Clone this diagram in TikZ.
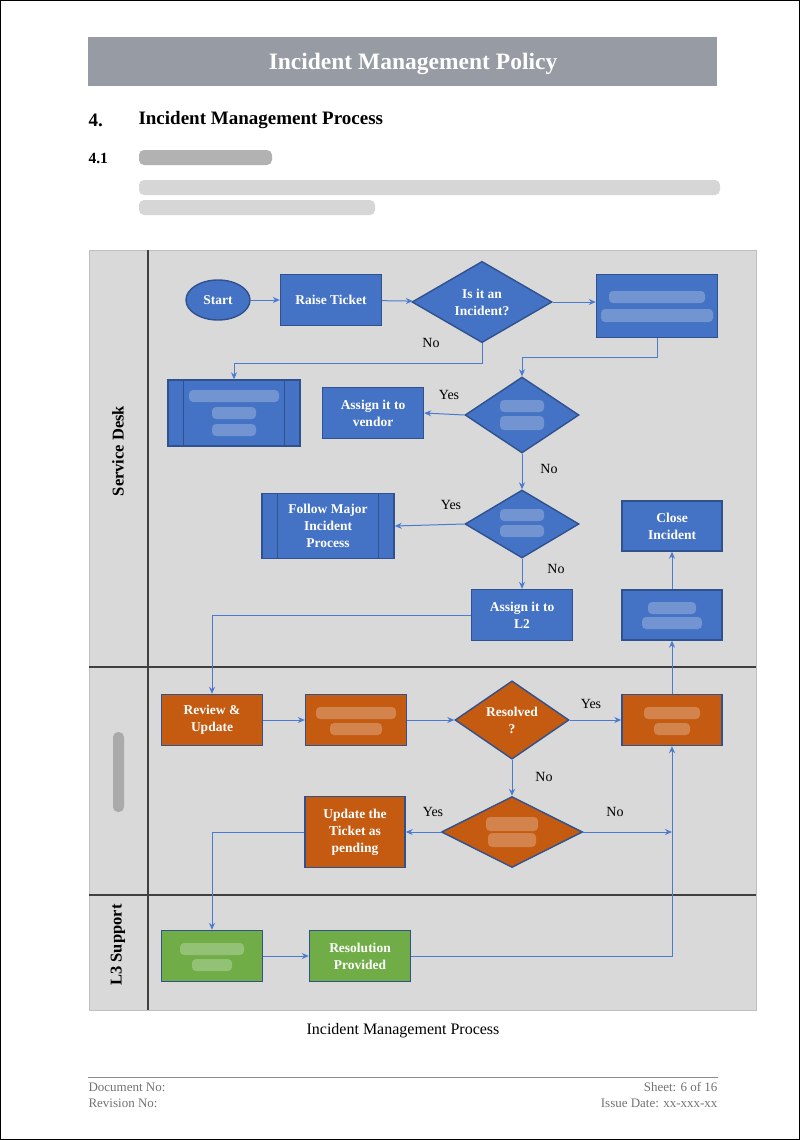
\documentclass[tikz,border=0pt]{standalone}
\usepackage{fontspec}
\setmainfont{Liberation Serif}
\usepackage{xcolor}
\usetikzlibrary{arrows.meta,shapes.geometric,calc}
\definecolor{boxblue}{HTML}{4472C4}
\definecolor{edgeblue}{HTML}{2F528F}
\definecolor{boxorange}{HTML}{C55A11}
\definecolor{boxgreen}{HTML}{70AD47}
\definecolor{lanegray}{HTML}{D9D9D9}
\definecolor{titlegray}{HTML}{979BA3}
\definecolor{linkblue}{HTML}{4A7BD0}

\begin{document}
\begin{tikzpicture}[x=1pt,y=-1pt,
box/.style={draw=edgeblue,line width=1.4,fill=boxblue,text=white,minimum width=101,minimum height=51,align=center,inner sep=2,font=\fontsize{13.5}{17}\selectfont\bfseries},
orangebox/.style={box,fill=boxorange},
greenbox/.style={box,fill=boxgreen},
decision/.style={diamond,draw=edgeblue,line width=1.4,fill=boxblue,text=white,inner sep=0,align=center,font=\fontsize{13.5}{17}\selectfont\bfseries},
flow/.style={-{Stealth[length=7,width=6]},draw=linkblue,line width=1},
answer/.style={font=\fontsize{14}{16}\selectfont},
blur/.style={fill=white,opacity=.25,rounded corners=4},
lanelabel/.style={rotate=90,font=\fontsize{16.5}{19}\selectfont\bfseries}]
\useasboundingbox(0,0)rectangle(800,1140);
\fill[white](0,0)rectangle(800,1140);
\draw[black,line width=1](0.5,0.5)rectangle(799.5,1139.5);
% page heading
\fill[titlegray](88,37)rectangle(717,86);
\node[text=white,font=\fontsize{23.5}{27}\selectfont\bfseries](title)at(413,64){Incident Management Policy};
\node[anchor=west,font=\fontsize{19}{22}\selectfont\bfseries](secno)at(85,120){4.};
\node[anchor=west,font=\fontsize{19}{22}\selectfont\bfseries](sectitle)at(135,120){Incident Management Process};
\node[anchor=west,font=\fontsize{15.5}{18}\selectfont\bfseries](subno)at(85,158){4.1};
\fill[black!30,rounded corners=5](139,150)rectangle(272,165);
\fill[black!16,rounded corners=5](139,180)rectangle(720,195);
\fill[black!16,rounded corners=5](139,200)rectangle(375,215);
% swim lanes
\filldraw[fill=lanegray,draw=black!25](89,250)rectangle(756,1010);
\draw[black!75,line width=1.2](148,250)--(148,1010)(89,667)--(756,667)(89,895)--(756,895);
\node[lanelabel](sdlane)at(118,451){Service Desk};
\fill[black!45,opacity=.6,rounded corners=5](113,732)rectangle(124,812);
\node[lanelabel](lthree)at(118,945){L3 Support};
% service desk
\node[ellipse,draw=edgeblue,line width=1.4,fill=boxblue,text=white,minimum width=64,minimum height=40,inner sep=0,font=\fontsize{13.5}{15}\selectfont\bfseries](start)at(218,300){Start};
\node[box](raise)at(331,300){Raise Ticket};
\node[decision,minimum width=140,minimum height=70](isinc)at(482,302){Is it an\\Incident?};
\node[box,minimum width=121,minimum height=63](triage)at(657,306){};
\node[box,minimum width=132,minimum height=66](other)at(234,413){};
\draw[edgeblue,line width=1.4]([xshift=16]other.north west)--([xshift=16]other.south west)([xshift=-16]other.north east)--([xshift=-16]other.south east);
\node[box](vendor)at(373,413){Assign it to\\vendor};
\node[decision,minimum width=114,minimum height=76](dec1)at(522,415){};
\node[decision,minimum width=114,minimum height=68](dec2)at(522,524){};
\node[box,minimum width=132,minimum height=65](major)at(328,526){Follow Major\\Incident\\Process};
\draw[edgeblue,line width=1.4]([xshift=16]major.north west)--([xshift=16]major.south west)([xshift=-16]major.north east)--([xshift=-16]major.south east);
\node[box](toltwo)at(522,615){Assign it to\\L2};
\node[box,minimum width=100,minimum height=50](resolve)at(672,615){};
\node[box,minimum width=100,minimum height=50](close)at(672,526){Close\\Incident};
% L2 lane
\node[orangebox](review)at(212,720){Review \&\\Update};
\node[orangebox](diag)at(356,720){};
\node[decision,fill=boxorange,minimum width=114,minimum height=64](resolved)at(512,720){Resolved\\?};
\node[orangebox,minimum width=100](fix)at(672,720){};
\node[decision,fill=boxorange,minimum width=141,minimum height=71](dec3)at(512,832){};
\node[orangebox,minimum width=100,minimum height=71](pending)at(355,832){Update the\\Ticket as\\pending};
% L3 lane
\node[greenbox](invest)at(212,956){};
\node[greenbox](provided)at(360,956){Resolution\\Provided};
% blurred texts
\fill[blur]($(triage)+(-48,-15)$)rectangle($(triage)+(48,-3)$);
\fill[blur]($(triage)+(-56,3)$)rectangle($(triage)+(56,16)$);
\fill[blur]($(other)+(-45,-23)$)rectangle($(other)+(45,-11)$);
\fill[blur]($(other)+(-22,-6)$)rectangle($(other)+(22,6)$);
\fill[blur]($(other)+(-22,11)$)rectangle($(other)+(22,23)$);
\fill[blur]($(dec1)+(-22,-15)$)rectangle($(dec1)+(22,-3)$);
\fill[blur]($(dec1)+(-22,1)$)rectangle($(dec1)+(22,15)$);
\fill[blur]($(dec2)+(-22,-15)$)rectangle($(dec2)+(22,-3)$);
\fill[blur]($(dec2)+(-22,1)$)rectangle($(dec2)+(22,13)$);
\fill[blur]($(resolve)+(-24,-13)$)rectangle($(resolve)+(24,-1)$);
\fill[blur]($(resolve)+(-30,2)$)rectangle($(resolve)+(30,14)$);
\fill[blur]($(diag)+(-40,-13)$)rectangle($(diag)+(40,-1)$);
\fill[blur]($(diag)+(-26,3)$)rectangle($(diag)+(26,15)$);
\fill[blur]($(fix)+(-28,-13)$)rectangle($(fix)+(28,-1)$);
\fill[blur]($(fix)+(-18,3)$)rectangle($(fix)+(18,15)$);
\fill[blur]($(dec3)+(-26,-15)$)rectangle($(dec3)+(26,-1)$);
\fill[blur]($(dec3)+(-24,1)$)rectangle($(dec3)+(24,15)$);
\fill[blur]($(invest)+(-32,-13)$)rectangle($(invest)+(32,-1)$);
\fill[blur]($(invest)+(-20,3)$)rectangle($(invest)+(20,15)$);
% connectors
\draw[flow](start)--(raise);
\draw[flow](raise)--(isinc);
\draw[flow](isinc.east)--(isinc.east-|triage.west);
\draw[flow](isinc.south)--++(0,20)-|(other.north);
\node[answer](noone)at(431,343){No};
\draw[flow](triage.south)--++(0,19)-|(dec1.north);
\draw[flow](dec1.west)--(vendor.east);
\node[answer](yesone)at(449,395){Yes};
\draw[flow](dec1.south)--(dec2.north);
\node[answer](notwo)at(549,469){No};
\draw[flow](dec2.west)--(major.east);
\node[answer](yestwo)at(451,505){Yes};
\draw[flow](dec2.south)--(toltwo.north);
\node[answer](nothree)at(556,569){No};
\draw[flow](toltwo.west)-|(review.north);
\draw[flow](fix.north)--(resolve.south);
\draw[flow](resolve.north)--(close.south);
\draw[flow](review)--(diag);
\draw[flow](diag)--(resolved);
\draw[flow](resolved.east)--(fix.west);
\node[answer](yesthree)at(591,704){Yes};
\draw[flow](resolved.south)--(dec3.north);
\node[answer](nofour)at(544,777){No};
\draw[flow](dec3.west)--(pending.east);
\node[answer](yesfour)at(433,812){Yes};
\coordinate(join)at(dec3.east-|fix.south);
\draw[flow](dec3.east)--(join);
\node[answer](nofive)at(615,812){No};
\draw[flow](pending.west)-|(invest.north);
\draw[flow](invest)--(provided);
\draw[flow](provided.east)-|(fix.south);
% caption and footer
\node[font=\fontsize{16}{19}\selectfont](caption)at(403,1031){Incident Management Process};
\draw[black!45,line width=1](88,1077)--(718,1077);
\node[anchor=west,text=black!55,font=\fontsize{13}{15}\selectfont](docno)at(85,1087){Document No:};
\node[anchor=west,text=black!55,font=\fontsize{13}{15}\selectfont](revno)at(85,1103){Revision No:};
\node[anchor=east,text=black!55,font=\fontsize{13}{15}\selectfont](sheet)at(721,1087){Sheet: 6 of 16};
\node[anchor=east,text=black!55,font=\fontsize{13}{15}\selectfont](issue)at(721,1103){Issue Date: xx-xxx-xx};
\end{tikzpicture}
\end{document}
